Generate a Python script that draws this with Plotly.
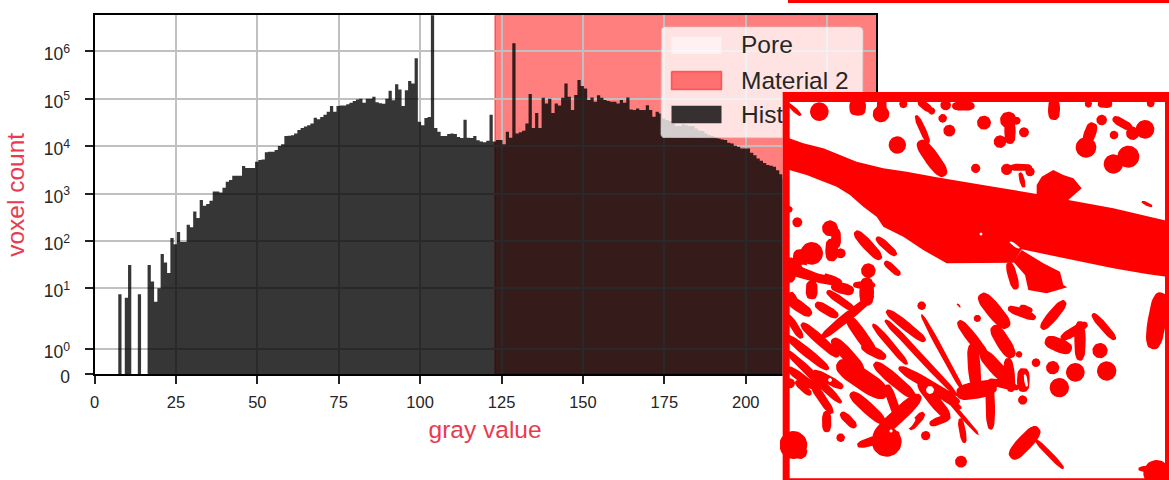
import math
import plotly.graph_objects as go

# ---------- histogram data (bin index = position in list) ----------
hist_counts = [
    0, 0, 0, 0, 0, 0, 0, 8, 0, 7,
    31, 0, 0, 8, 0, 0, 31, 14, 6, 10,
    53, 35, 21, 115, 85, 155, 95, 95, 220, 195,
    415, 305, 730, 555, 600, 700, 1100, 1100, 1050, 1330,
    1770, 1930, 2380, 2380, 2380, 3800, 3450, 3450, 3450, 4700,
    5070, 5200, 7400, 7600, 7600, 8300, 10100, 11000, 16300, 16600,
    17000, 18500, 21800, 24000, 26000, 27700, 30100, 39600, 37000, 41000,
    46000, 53000, 70000, 53000, 70000, 72000, 72000, 76000, 82000, 90000,
    96000, 100000, 82000, 100000, 100000, 110000, 84000, 80000, 78000, 100000,
    147000, 93000, 203000, 157000, 70000, 150000, 235000, 210000, 710000, 32500,
    27700, 39000, 41000, 20000000, 24000, 20000, 16300, 16300, 18000, 18500,
    18000, 15500, 14800, 36000, 15000, 14800, 16300, 13300, 12500, 12000,
    13000, 46000, 12500, 13500, 13500, 11000, 20000, 15000, 1480000, 18500,
    19500, 21000, 30000, 125000, 24000, 50000, 24000, 105000, 79500, 100000,
    50000, 79500, 72000, 105000, 210000, 110000, 57500, 120000, 247000, 185000,
    165000, 93500, 106000, 86000, 119000, 105000, 93500, 89000, 86000, 86000,
    79500, 93500, 82000, 106000, 59000, 57500, 62000, 57500, 57500, 73000,
    57500, 41600, 53000, 48900, 38400, 35400, 34000, 30100, 26500, 26500,
    29000, 27600, 26500, 26500, 23600, 21000, 20800, 18500, 17000, 16300,
    15200, 14500, 13800, 13400, 11800, 11400, 10200, 9700, 8900, 8900,
    8900, 7200, 6400, 5500, 4900, 4400, 4000, 3850, 3650, 3100,
    2560, 2080,
]
gray_edges = [k + 0.3 for k in range(len(hist_counts) + 1)]
material_threshold = 123.0
x_limit = 239.9
y_limit = 5.75e6
x_ticks = [0, 25, 50, 75, 100, 125, 150, 175, 200, 225]
y_ticks = [0, 1, 10, 100, 1000, 10000, 100000, 1000000]
y_tick_labels = ["0", "10<sup>0</sup>", "10<sup>1</sup>", "10<sup>2</sup>", "10<sup>3</sup>",
                 "10<sup>4</sup>", "10<sup>5</sup>", "10<sup>6</sup>"]
legend_names = ["Pore", "Material 2", "Histogram"]

# ---------- inset picture: segmented slice (canvas 1167 x 1170) ----------
band_outline = [(10,140),(28,145),(70,160),(130,175),(180,195),(230,215),(310,235),(380,245),(470,262),
                (560,278),(640,290),(770,312),(770,285),(785,260),(820,240),(850,255),(880,265),(905,295),
                (865,330),(1000,355),(1100,378),(1160,392),(1160,560),(1100,552),(1000,535),(900,515),
                (800,495),(725,478),(700,518),(500,520),(430,480),(370,440),(310,410),(290,380),(250,350),
                (210,315),(170,290),(130,275),(80,255),(28,240),(10,235)]
lobe_outline = [(700,515),(725,480),(790,520),(840,545),(850,585),(862,592),(800,610),(745,600),(735,555)]
# strokes: x1, y1, x2, y2, width
upper_blobs = [(28,45,58,72,14),(118,65,118,65,56),(233,50,233,52,50),(303,72,303,72,50),(305,35,305,60,30),
    (370,42,370,42,25),(425,40,445,55,24),(455,63,455,63,22),(497,45,497,45,32),(530,48,570,48,28),
    (488,85,488,85,26),(508,122,508,122,36),(412,85,442,150,20),(352,165,352,165,52),(612,98,612,98,42),
    (685,90,685,90,50),(660,155,660,155,38),(690,105,690,145,34),(732,127,732,127,30),(710,92,710,92,24),
    (822,45,822,72,36),(925,42,925,42,22),(965,42,985,42,24),(1112,40,1112,40,24),(965,90,965,90,32),
    (1002,135,1002,135,26),(1095,118,1095,118,56),(1058,130,1058,130,40),(1010,90,1045,110,26),(918,172,918,172,62),
    (935,115,925,145,36),(1045,200,1045,200,66),(1000,222,1000,222,58),(430,170,482,240,44),(587,235,587,235,28),
    (680,238,680,238,34),(700,232,745,232,22),(750,245,750,245,28),(722,255,730,285,16),(1090,337,1112,347,11),
    (28,358,28,358,20),(52,397,52,397,30),(150,415,150,415,48),(168,430,168,460,30),(155,465,155,495,38),
    (182,490,182,490,30),(236,436,292,496,32),(298,450,340,488,24),(265,542,265,542,44),(322,522,352,548,22),
    (95,490,95,490,68),(60,500,60,520,44),(30,520,30,560,36),(30,540,170,575,34),(690,530,705,585,28),
    (230,585,275,585,22)]
lower_blobs = [(95,5,95,25,36),(170,5,205,15,34),(260,0,260,40,44),(150,25,215,70,24),(135,150,270,40,28),
    (118,62,162,88,28),(30,45,80,80,34),(35,30,50,55,20),(28,100,60,150,24),(75,125,165,205,30),
    (28,160,135,245,28),(28,205,175,345,26),(32,255,100,305,26),(110,265,178,302,26),(55,295,85,322,22),
    (102,305,150,375,26),(140,392,140,428,28),(192,392,218,418,26),(182,458,182,458,26),(30,295,30,295,30),
    (40,480,40,480,84),(60,500,60,500,44),(212,108,275,195,36),(170,175,235,245,38),(258,188,304,212,30),
    (198,250,295,315,62),(225,335,300,402,36),(285,125,375,230,22),(330,85,425,160,28),(322,112,405,195,20),
    (428,95,548,315,17),(335,125,525,325,20),(296,245,390,325,36),(370,255,525,345,32),(415,285,535,365,22),
    (478,315,592,445,13),(428,305,495,385,36),(325,312,350,385,28),(405,345,298,445,44),(320,470,320,470,90),
    (245,478,345,448,28),(396,424,424,392,24),(460,414,500,398,24),(437,452,437,452,28),(542,410,552,464,20),
    (425,62,425,62,26),(533,58,540,65,6),(592,100,592,100,22),(615,45,670,110,46),(696,73,755,95,26),
    (728,68,748,75,20),(795,120,845,60,32),(945,95,998,155,24),(545,120,612,205,32),(578,195,587,295,38),
    (650,140,688,200,42),(618,215,672,275,42),(685,235,692,305,32),(635,290,705,307,24),(717,208,717,208,20),
    (768,233,768,233,26),(730,268,730,302,38),(728,345,728,345,28),(818,248,818,248,40),(886,262,886,262,56),
    (980,258,980,258,58),(838,308,838,308,58),(960,197,960,197,46),(815,172,855,188,42),(855,155,910,122,28),
    (900,125,900,210,34),(555,322,625,308,52),(630,305,632,420,28),(708,502,760,445,46),(772,470,845,545,17),
    (543,530,543,530,36),(1140,50,1122,165,56),(1130,565,1130,565,80),(1085,552,1150,550,20)]
white_specks = [(603,432,603,432,9),(693,458,715,472,9),(70,528,130,550,12),(450,900,450,900,24),
                (150,870,150,870,12),(333,1023,333,1023,10),(400,990,385,1010,14),(735,858,740,885,10)]
frame_bands = [(8,6,1167,36),(8,6,29,1170),(1155,6,1167,1170),(8,1165,1167,1170)]
strip_band = (788,0,1169,3)


# ---------- scale of the y axis: custom symmetrical-log ----------
def y_scale(v):
    if v <= 0:
        return 0.0
    if v < 1:
        return 0.534 * v
    if v < 10:
        return 0.534 + 1.28 * math.log10(v)
    return 1.814 + math.log10(v / 10)


def stroke_path(stroke, dy=0):
    """Rounded, slightly tapered blob between two end points."""
    x1, y1, x2, y2, w = stroke
    length = math.hypot(x2 - x1, y2 - y1)
    cx, cy = (x1 + x2) / 2, (y1 + y2) / 2 + dy
    a, b = length / 2 + w / 2, w / 2
    e = 1.0 if length == 0 else 0.72
    t = math.atan2(y2 - y1, x2 - x1)
    xs, ys = [], []
    for i in range(37):
        p = 2 * math.pi * i / 36
        c, s = math.cos(p), math.sin(p)
        ex = a * math.copysign(abs(c) ** e, c)
        ey = b * math.copysign(abs(s) ** e, s)
        xs.append(cx + ex * math.cos(t) - ey * math.sin(t))
        ys.append(cy + ex * math.sin(t) + ey * math.cos(t))
    return xs + [None], ys + [None]


def strokes_xy(strokes, dy=0):
    xs, ys = [], []
    for s in strokes:
        a, b = stroke_path(s, dy)
        xs += a
        ys += b
    return xs, ys


def rect_xy(x0, y0, x1, y1):
    return [x0, x1, x1, x0, x0, None], [y0, y0, y1, y1, y0, None]


def rounded_xy(x0, y0, x1, y1, r):
    xs, ys = [], []
    for cx, cy, start in [(x1 - r, y0 + r, -90), (x1 - r, y1 - r, 0), (x0 + r, y1 - r, 90), (x0 + r, y0 + r, 180)]:
        for i in range(7):
            ang = math.radians(start + 15 * i)
            xs.append(cx + r * math.cos(ang))
            ys.append(cy + r * math.sin(ang))
    return xs + xs[:1], ys + ys[:1]


FONT = "Liberation Sans, Arial, sans-serif"
W, H = 1169, 480
PL, PR, PT, PB = 94.5, 875.7, 15.3, 374.3
TITLE_RED = "#ea3a50"

fig = go.Figure()

# histogram as one stepped outline
scaled = [y_scale(c) for c in hist_counts]
fig.add_trace(go.Scatter(
    x=[gray_edges[0]] + gray_edges + [gray_edges[-1]],
    y=[0] + scaled + [scaled[-1], 0],
    mode="lines", line=dict(shape="hv", width=0, color="rgba(0,0,0,0)"),
    fill="toself", fillcolor="rgba(0,0,0,0.79)",
    showlegend=False, hoverinfo="skip", xaxis="x", yaxis="y",
))


def overlay_fill(xs, ys, color, line=None, lw=0):
    fig.add_trace(go.Scatter(
        x=xs, y=ys, mode="lines", fill="toself", fillcolor=color,
        line=dict(color=line or "rgba(0,0,0,0)", width=lw),
        showlegend=False, hoverinfo="skip", xaxis="x2", yaxis="y2"))


bx, by = rounded_xy(661, 27, 863, 138, 4)
overlay_fill(bx, by, "rgba(255,255,255,0.78)", "rgba(204,204,204,0.7)", 1)
sx, sy = rect_xy(671.5, 36.7, 721.5, 54)
overlay_fill(sx, sy, "rgba(255,255,255,0.5)")
sx, sy = rect_xy(671.5, 71.5, 721.5, 89.5)
overlay_fill(sx, sy, "rgba(255,0,0,0.5)", "rgba(255,0,0,0.5)", 1.5)
sx, sy = rect_xy(671.5, 105.7, 721.5, 123.3)
overlay_fill(sx, sy, "rgba(0,0,0,0.79)")
fig.add_trace(go.Scatter(
    x=[741, 741, 741], y=[47, 83, 117], mode="text", text=legend_names,
    textposition="middle right",
    textfont=dict(family=FONT, size=24.5, color="#262626"),
    showlegend=False, hoverinfo="skip", cliponaxis=False, xaxis="x2", yaxis="y2"))


def inset_fill(xs, ys, color):
    fig.add_trace(go.Scatter(
        x=xs, y=ys, mode="lines", fill="toself", fillcolor=color,
        line=dict(color="rgba(0,0,0,0)", width=0),
        showlegend=False, hoverinfo="skip", xaxis="x3", yaxis="y3"))


wx, wy = rect_xy(8, 6, 1167, 1170)
inset_fill(wx, wy, "#ffffff")
for outline in (band_outline, lobe_outline):
    inset_fill([p[0] for p in outline] + [outline[0][0]], [p[1] for p in outline] + [outline[0][1]], "#ff0000")
ux, uy = strokes_xy(upper_blobs)
lx, ly = strokes_xy(lower_blobs, 585)
inset_fill(ux + lx, uy + ly, "#ff0000")
hx, hy = strokes_xy(white_specks)
inset_fill(hx, hy, "#ffffff")
fx, fy = [], []
for b in frame_bands:
    a, c = rect_xy(*b)
    fx += a
    fy += c
inset_fill(fx, fy, "#ff0000")

sx, sy = rect_xy(*strip_band)
fig.add_trace(go.Scatter(x=sx, y=sy, mode="lines", fill="toself", fillcolor="#ff0000",
                         line=dict(color="rgba(0,0,0,0)", width=0), showlegend=False,
                         hoverinfo="skip", xaxis="x4", yaxis="y4"))

fig.update_layout(
    width=W, height=H, autosize=False,
    margin=dict(l=0, r=0, t=0, b=0),
    paper_bgcolor="white", plot_bgcolor="rgba(0,0,0,0)",
    showlegend=False,
    font=dict(family=FONT, color="#262626"),
    shapes=[dict(type="rect", xref="x", yref="y", layer="below",
                 x0=material_threshold, x1=x_limit, y0=0, y1=y_scale(y_limit),
                 fillcolor="rgba(255,0,0,0.5)", line=dict(color="rgba(255,0,0,0.5)", width=1.5))],
    xaxis=dict(
        domain=[PL / W, PR / W], range=[0, x_limit], tickvals=x_ticks, ticktext=[str(t) for t in x_ticks],
        showgrid=True, gridcolor="#c0c0c0", gridwidth=1.5, zeroline=False,
        showline=True, mirror=True, linecolor="#000000", linewidth=2,
        ticks="outside", ticklen=8, tickwidth=1.5, tickcolor="#222222", ticklabelstandoff=4,
        tickfont=dict(family=FONT, size=16.5, color="#262626"),
        title=dict(text="gray value", font=dict(family=FONT, size=24.5, color=TITLE_RED), standoff=11),
        automargin=False, anchor="y",
    ),
    yaxis=dict(
        domain=[1 - PB / H, 1 - PT / H], range=[0, y_scale(y_limit)],
        tickvals=[y_scale(t) for t in y_ticks], ticktext=y_tick_labels,
        showgrid=True, gridcolor="#c0c0c0", gridwidth=1.5, zeroline=False,
        showline=True, mirror=True, linecolor="#000000", linewidth=2,
        ticks="outside", ticklen=8, tickwidth=1.5, tickcolor="#222222", ticklabelstandoff=11,
        ticklabelshift=3,
        tickfont=dict(family=FONT, size=17.5, color="#262626"),
        title=dict(text="voxel count", font=dict(family=FONT, size=24.5, color=TITLE_RED), standoff=12),
        automargin=False, anchor="x",
    ),
    xaxis2=dict(domain=[0, 1], range=[0, W], visible=False, anchor="y2", fixedrange=True),
    yaxis2=dict(domain=[0, 1], range=[H, 0], visible=False, anchor="x2", fixedrange=True),
    xaxis3=dict(domain=[780 / W, 1], range=[0, 1167], visible=False, anchor="y3", fixedrange=True),
    yaxis3=dict(domain=[0, 390 / H], range=[1170, 0], visible=False, anchor="x3", fixedrange=True),
    xaxis4=dict(domain=[0, 1], range=[0, W], visible=False, anchor="y4", fixedrange=True),
    yaxis4=dict(domain=[0, 1], range=[H, 0], visible=False, anchor="x4", fixedrange=True),
)

fig.write_html("out.html", config=dict(displayModeBar=False),
               post_script="document.body.style.margin='0';")
